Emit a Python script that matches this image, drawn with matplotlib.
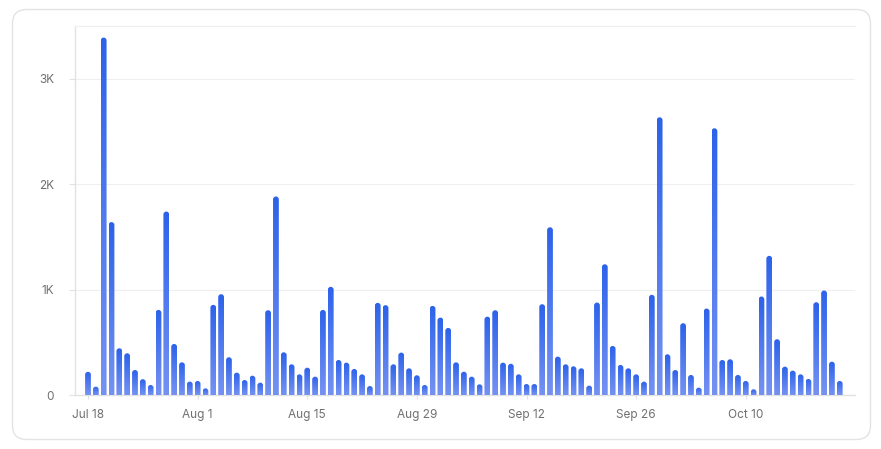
import numpy as np
import pandas as pd
import matplotlib
matplotlib.use("Agg")
import matplotlib.pyplot as plt
import matplotlib.dates as mdates
from matplotlib.patches import FancyBboxPatch
from matplotlib.colors import LinearSegmentedColormap
from matplotlib.ticker import FuncFormatter

plt.rcParams['font.family'] = ['Inter', 'DejaVu Sans']

# daily values, Jul 18 -> Oct 22
start_date = "2023-07-18"
values = [
    220, 79, 3390, 1640, 443, 396, 237, 150, 95,
    807, 1740, 484, 310, 127, 133, 63,
    855, 956, 358, 212, 142, 183, 117,
    804, 1883, 405, 291, 196, 259, 174,
    807, 1026, 332, 307, 247, 196, 85,
    874, 852, 291, 402, 253, 187, 95,
    845, 734, 636, 310, 221, 174, 101,
    743, 804, 307, 296, 196, 104, 104,
    861, 1591, 364, 291, 272, 253, 89,
    877, 1240, 465, 285, 253, 196, 127,
    950, 2634, 386, 237, 681, 190, 70,
    820, 2530, 332, 339, 190, 133, 54,
    934, 1320, 529, 269, 231, 196, 152,
    880, 991, 316, 133,
]
dates = pd.date_range(start_date, periods=len(values), freq="D")
tick_dates = pd.date_range(start_date, periods=7, freq="14D")
y_ticks = [0, 1000, 2000, 3000]

top_color = "#2c62ea"
bottom_color = "#7592f2"
grid_color = "#efefef"
axis_color = "#e2e2e2"
text_color = "#707070"

W, H = 881, 449
fig = plt.figure(figsize=(W / 100, H / 100), dpi=100)

# card frame
card = FancyBboxPatch((12.5 / W, 9.5 / H), 858 / W, 430 / H,
                      boxstyle="round,pad=0,rounding_size=0.016",
                      transform=fig.transFigure, facecolor="none",
                      edgecolor="#e3e3e3", linewidth=1.0,
                      mutation_aspect=W / H, zorder=-1)
fig.patches.append(card)

ax_left, ax_right, ax_top, ax_bottom = 75, 855, 26, 395
ax = fig.add_axes([ax_left / W, 1 - ax_bottom / H,
                   (ax_right - ax_left) / W, (ax_bottom - ax_top) / H])
ax.patch.set_alpha(0)

x = mdates.date2num(dates)
x0 = x[0]
ax.set_xlim(x0 - 1.66, x0 + 97.95)
ax.set_ylim(0, 3500)

# per-pixel scale for rounded tops
px_x = (ax.get_xlim()[1] - ax.get_xlim()[0]) / (ax_right - ax_left)
px_y = 3500 / (ax_bottom - ax_top)
aspect = px_y / px_x

cmap = LinearSegmentedColormap.from_list("bar", [bottom_color, top_color])
grad = np.linspace(0, 1, 256).reshape(-1, 1)
bw = 0.74
for xi, v in zip(x, values):
    patch = FancyBboxPatch((xi - bw / 2, -60), bw, v + 60,
                           boxstyle=f"round,pad=0,rounding_size={bw / 2}",
                           mutation_aspect=aspect, facecolor="none",
                           edgecolor="none", linewidth=0)
    ax.add_patch(patch)
    im = ax.imshow(grad, extent=[xi - bw / 2, xi + bw / 2, 0, v],
                   origin="lower", cmap=cmap, aspect="auto",
                   interpolation="bilinear", zorder=3)
    im.set_clip_path(patch)

ax.set_xlim(x0 - 1.66, x0 + 97.95)
ax.set_ylim(0, 3500)

ax.set_yticks(y_ticks)
ax.yaxis.set_major_formatter(FuncFormatter(lambda v, p: "0" if v == 0 else f"{int(v / 1000)}K"))
ax.set_xticks(mdates.date2num(tick_dates))
ax.set_xticklabels([d.strftime("%b %-d") for d in tick_dates])

ax.grid(axis="y", color=grid_color, linewidth=0.8, zorder=0)
ax.set_axisbelow(True)
for side in ["left", "bottom"]:
    ax.spines[side].set_color(axis_color)
    ax.spines[side].set_linewidth(1.0)
ax.spines["top"].set_color(grid_color)
ax.spines["top"].set_linewidth(0.8)
ax.spines["right"].set_visible(False)

ax.tick_params(axis="y", length=4, width=0.8, color=axis_color, pad=11,
               labelsize=8.5, labelcolor=text_color)
ax.tick_params(axis="x", length=3, width=0.8, color=axis_color, pad=7,
               labelsize=8.5, labelcolor=text_color)

fig.savefig("out.png", dpi=100)
